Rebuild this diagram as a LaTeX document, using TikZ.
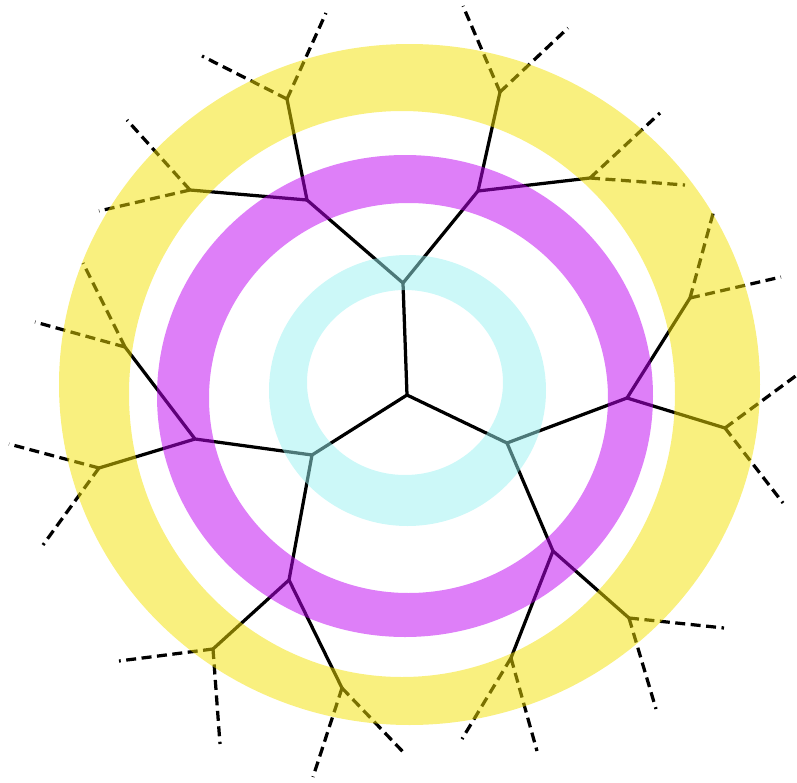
\documentclass[tikz,border=0pt]{standalone}
\usepackage{tikz}
\usepackage{xcolor}
\definecolor{ringyellow}{RGB}{243,225,0}
\definecolor{ringmagenta}{RGB}{189,0,241}
\definecolor{ringcyan}{RGB}{153,241,241}
\begin{document}
\begin{tikzpicture}[x=0.2mm, y=-0.2mm, line width=1.85pt, line join=round,
    shell/.style={fill opacity=0.5, even odd rule},
    leaf/.style={dash pattern=on 2mm off 1.1mm}]
    \useasboundingbox (0,0) rectangle (797,783);

    % Define the vertices of the tree (centre, shells 1-3)
    \coordinate (c) at (407, 395);
    \coordinate (a1) at (403, 283);
    \coordinate (a2) at (312, 455);
    \coordinate (a3) at (507, 443);
    \coordinate (b1) at (307, 200);
    \coordinate (b2) at (478, 191);
    \coordinate (b3) at (195, 439);
    \coordinate (b4) at (289, 580);
    \coordinate (b5) at (627, 398);
    \coordinate (b6) at (553, 551);
    \coordinate (d1) at (287, 99);
    \coordinate (d2) at (190, 190);
    \coordinate (d3) at (500, 92);
    \coordinate (d4) at (590, 178);
    \coordinate (d5) at (125, 347);
    \coordinate (d6) at (99, 468);
    \coordinate (d7) at (213, 649);
    \coordinate (d8) at (342, 688);
    \coordinate (d9) at (690, 298);
    \coordinate (d10) at (725, 428);
    \coordinate (d11) at (629, 618);
    \coordinate (d12) at (511, 658);

    % Open ends of the outer branches
    \coordinate (e1) at (326, 13);   \coordinate (e2) at (202, 56);
    \coordinate (e3) at (127, 120);  \coordinate (e4) at (99, 211);
    \coordinate (e5) at (463, 6);    \coordinate (e6) at (568, 28);
    \coordinate (e7) at (660, 113);  \coordinate (e8) at (685, 185);
    \coordinate (e9) at (83, 263);   \coordinate (e10) at (35, 322);
    \coordinate (e11) at (9, 444);   \coordinate (e12) at (43, 545);
    \coordinate (e13) at (119, 661); \coordinate (e14) at (220, 744);
    \coordinate (e15) at (313, 777); \coordinate (e16) at (406, 755);
    \coordinate (e17) at (714, 210); \coordinate (e18) at (781, 277);
    \coordinate (e19) at (797, 375); \coordinate (e20) at (783, 503);
    \coordinate (e21) at (724, 628); \coordinate (e22) at (656, 709);
    \coordinate (e23) at (462, 739); \coordinate (e24) at (537, 751);

    % Draw the edges (solid inside, dashed outside)
    \foreach \p/\q in {c/a1, c/a2, c/a3, a1/b1, a1/b2, a2/b3, a2/b4, a3/b5, a3/b6,
        b1/d1, b1/d2, b2/d3, b2/d4, b3/d5, b3/d6, b4/d7, b4/d8, b5/d9, b5/d10,
        b6/d11, b6/d12}
        \draw (\p) -- (\q);
    \begin{scope}[leaf]
        \draw (d1) -- (e1) (d1) -- (e2);
        \draw (d2) -- (e3) (d2) -- (e4);
        \draw (d3) -- (e5) (d3) -- (e6);
        \draw (d4) -- (e7) (d4) -- (e8);
        \draw (d5) -- (e9) (d5) -- (e10);
        \draw (d6) -- (e11) (d6) -- (e12);
        \draw (d7) -- (e13) (d7) -- (e14);
        \draw (d8) -- (e15) (d8) -- (e16);
        \draw (d9) -- (e17) (d9) -- (e18);
        \draw (d10) -- (e19) (d10) -- (e20);
        \draw (d11) -- (e21) (d11) -- (e22);
        \draw (d12) -- (e23) (d12) -- (e24);
    \end{scope}

    % Shells over the tree
    \fill[ringcyan, shell] (407.5, 390.5) ellipse [x radius=138.5, y radius=135.5]
        (405, 382.5) ellipse [x radius=98, y radius=92.5];
    \fill[ringmagenta, shell] (405, 396) ellipse [x radius=248, y radius=241]
        (408.5, 398) ellipse [x radius=199.5, y radius=195];
    \fill[ringyellow, shell] (409.5, 384.5) ellipse [x radius=350.5, y radius=340.5]
        (402, 394) ellipse [x radius=273, y radius=283];
\end{tikzpicture}
\end{document}
